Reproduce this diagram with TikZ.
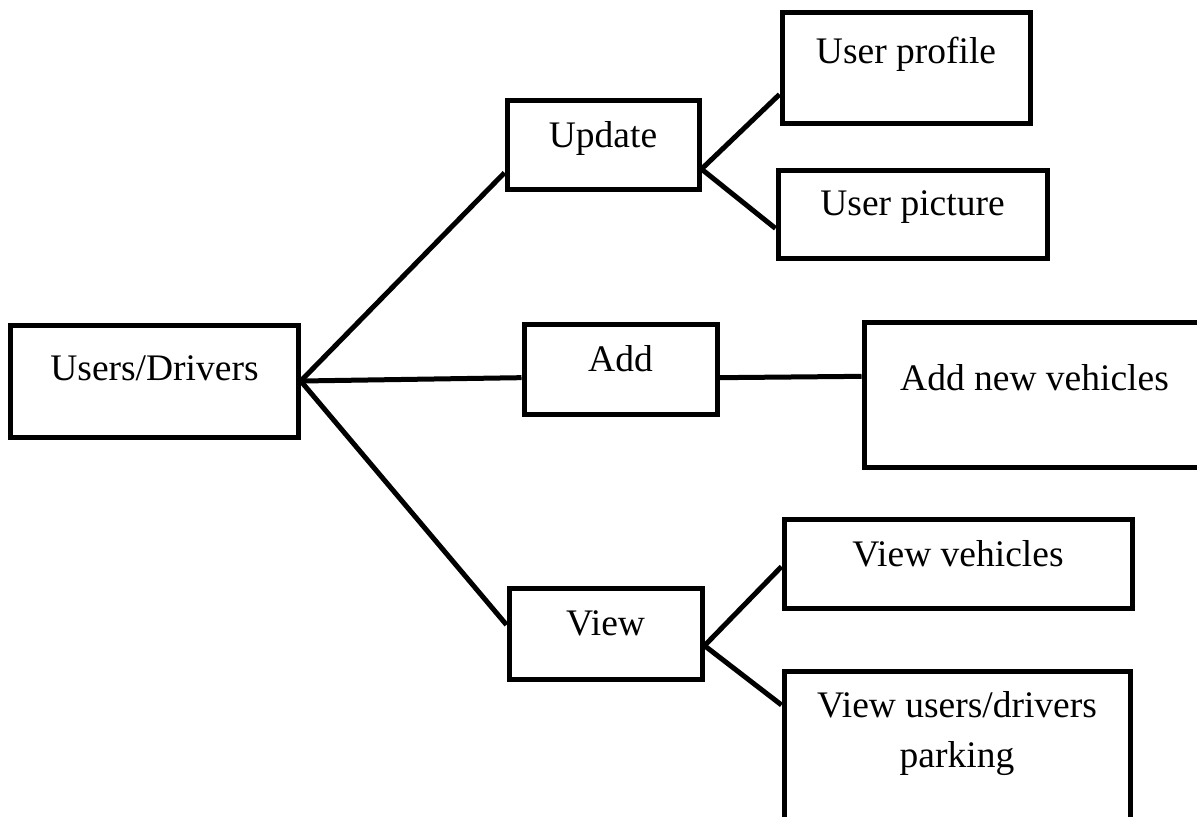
\documentclass[tikz,border=0pt]{standalone}
\usepackage{fontspec}
\setmainfont{Liberation Serif}
\usepackage{tikz}
\tikzset{every picture/.style={x=0.5pt,y=-0.5pt,line width=2.5pt},
  box/.style={draw,rectangle,anchor=base,inner xsep=0pt,inner ysep=0pt,align=center,
    font=\fontsize{18.75}{25}\selectfont}}

\begin{document}
\begin{tikzpicture}
            \useasboundingbox (0,0) rectangle (1197,816);
            \node[box,minimum width=143.75pt,text height=27.5pt,text depth=28.5pt] (ud) at (154.5,380) {Users/Drivers};
            \node[box,minimum width=96pt,text height=23.5pt,text depth=21pt] (upd) at (603,147) {Update};
            \node[box,minimum width=124pt,text height=25.5pt,text depth=30pt] (prof) at (906,63) {User profile};
            \node[box,minimum width=134.5pt,text height=22.5pt,text depth=21.5pt] (pic) at (912.5,215) {User picture};
            \node[box,minimum width=96.5pt,text height=23.5pt,text depth=21.5pt] (add) at (620.5,371) {Add};
            \node[box,minimum width=170.5pt,text height=34pt,text depth=38.5pt] (addnew) at (1034.5,390) {Add new vehicles};
            \node[box,minimum width=96.5pt,text height=23.5pt,text depth=22pt] (view) at (605.5,635) {View};
            \node[box,minimum width=174pt,text height=23.5pt,text depth=21pt] (vveh) at (958,566) {View vehicles};
            \node[box,anchor=north,minimum width=173pt,text height=48pt,text depth=32.5pt] (vusr) at (957,669) {View users/drivers\\parking};

            \foreach \from/\to in {ud.east/upd.196, ud.east/add.185, ud.east/view.175, upd.346/prof.192, upd.346/pic.186, add.355/addnew.174, view.353/vveh.181, view.353/vusr.165}
              \draw (\from) -- (\to);
        \end{tikzpicture}
\end{document}
